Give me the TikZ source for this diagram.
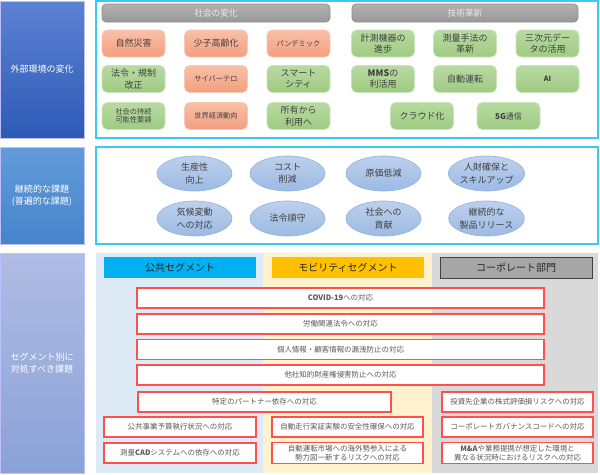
\documentclass[tikz,border=0pt]{standalone}
\usepackage{fontspec}
\setmainfont{Noto Sans CJK JP}
\usetikzlibrary{shapes.geometric}
\definecolor{lOneTop}{RGB}{92,130,210}
\definecolor{lOneBot}{RGB}{46,90,182}
\definecolor{lTwoTop}{RGB}{98,155,218}
\definecolor{lTwoBot}{RGB}{70,132,202}
\definecolor{lThrTop}{RGB}{176,188,228}
\definecolor{lThrBot}{RGB}{138,162,214}
\definecolor{cyanb}{RGB}{60,200,245}
\definecolor{oTop}{RGB}{249,192,168}
\definecolor{oBot}{RGB}{242,158,126}
\definecolor{oBrd}{RGB}{247,200,180}
\definecolor{gTop}{RGB}{184,218,162}
\definecolor{gBot}{RGB}{158,203,130}
\definecolor{gBrd}{RGB}{200,228,184}
\definecolor{hTop}{RGB}{178,178,178}
\definecolor{hBot}{RGB}{152,152,152}
\definecolor{hBrd}{RGB}{140,140,140}
\definecolor{eTop}{RGB}{190,208,236}
\definecolor{eBot}{RGB}{155,186,228}
\definecolor{eBrd}{RGB}{150,180,222}
\definecolor{txtDark}{RGB}{64,64,64}
\definecolor{txtGray}{RGB}{89,89,89}
\definecolor{segBlueBg}{RGB}{222,235,247}
\definecolor{segYelBg}{RGB}{255,242,204}
\definecolor{segGrayBg}{RGB}{217,217,217}
\definecolor{segCyan}{RGB}{0,176,240}
\definecolor{segOrange}{RGB}{255,192,0}
\definecolor{segGray}{RGB}{166,166,166}
\definecolor{redb}{RGB}{255,80,80}
\tikzset{
  base/.style={inner sep=0pt, outer sep=0pt},
  leftbox/.style={base, draw=white!75!blue, line width=0.4pt, align=center, text=white, font=\fontsize{6.75}{8.8}\selectfont, minimum width=63pt},
  panel/.style={base, draw=cyanb, line width=1.1pt, minimum width=376.5pt},
  hdr/.style={base, rounded corners=3pt, draw=hBrd, line width=0.5pt, top color=hTop, bottom color=hBot, text=white!92!black, font=\fontsize{6.5}{8}\selectfont, minimum height=13.5pt},
  tb/.style={base, rounded corners=4pt, line width=0.6pt, text=txtDark, align=center, font=\fontsize{6.75}{8.6}\selectfont, minimum width=47.25pt, minimum height=20.25pt},
  obox/.style={tb, draw=oBrd, top color=oTop, bottom color=oBot},
  gbox/.style={tb, draw=gBrd, top color=gTop, bottom color=gBot},
  smalltxt/.style={font=\fontsize{5.4}{6.3}\selectfont},
  ell/.style={base, ellipse, draw=eBrd, line width=0.5pt, top color=eTop, bottom color=eBot, text=txtDark, align=center, font=\fontsize{6.75}{9.3}\selectfont, minimum width=56.25pt, minimum height=26.25pt},
  bg/.style={base, minimum height=165pt},
  seg/.style={base, font=\fontsize{7.5}{9}\selectfont, text=black!85, minimum width=114pt, minimum height=15.75pt},
  rbox/.style={base, draw=redb, line width=1.1pt, fill=white, text=txtGray, align=center, font=\fontsize{5.6}{7}\selectfont, minimum height=15pt},
  rwide/.style={rbox, minimum width=305.25pt},
  rmid/.style={rbox, minimum width=113.25pt}
}
\begin{document}
\begin{tikzpicture}[x=0.75pt,y=-0.75pt]
\useasboundingbox (0,0) rectangle (600,475);

% left column
\node[leftbox, minimum height=102.75pt, top color=lOneTop, bottom color=lOneBot] (L1) at (42,69.5) {外部環境の変化};
\node[leftbox, minimum height=72.75pt, top color=lTwoTop, bottom color=lTwoBot] (L2) at (42,195.5) {継続的な課題\\(普遍的な課題)};
\node[leftbox, minimum height=165pt, top color=lThrTop, bottom color=lThrBot, font=\fontsize{6.75}{9.2}\selectfont] (L3) at (42,363) {セグメント別に\\対処すべき課題};

% panels
\node[panel, minimum height=102.75pt] (P1) at (347,69.5) {};
\node[panel, minimum height=72.75pt] (P2) at (347,195.5) {};

% section 1
\node[hdr, minimum width=171pt] (H1) at (216,13) {社会の変化};
\node[hdr, minimum width=169.5pt] (H2) at (465,13) {技術革新};

\node[obox] (a1) at (133.5,43.5) {自然災害};
\node[obox] (a2) at (216,43.5) {少子高齢化};
\node[obox, smalltxt] (a3) at (298.5,43.5) {パンデミック};
\node[gbox] (a4) at (383,43.5) {計測機器の\\進歩};
\node[gbox] (a5) at (465,43.5) {測量手法の\\革新};
\node[gbox] (a6) at (547.5,43.5) {三次元デー\\タの活用};

\node[gbox] (b1) at (133.5,79) {法令・規制\\改正};
\node[obox, smalltxt] (b2) at (216,79) {サイバーテロ};
\node[gbox] (b3) at (298.5,79) {スマート\\シティ};
\node[gbox] (b4) at (383,79) {\textbf{MMS}の\\利活用};
\node[gbox] (b5) at (465,79) {自動運転};
\node[gbox, smalltxt] (b6) at (547.5,79) {\textbf{AI}};

\node[gbox, smalltxt] (c1) at (133.5,116) {社会の持続\\可能性要請};
\node[obox, smalltxt] (c2) at (216,116) {世界経済動向};
\node[gbox] (c3) at (298.5,116) {所有から\\利用へ};
\node[gbox] (c4) at (422,116) {クラウド化};
\node[gbox, font=\fontsize{6}{7}\selectfont] (c5) at (508.5,116) {\textbf{5G}通信};

% section 2
\node[ell] (e1) at (194.5,173.5) {生産性\\向上};
\node[ell] (e2) at (287.5,173.5) {コスト\\削減};
\node[ell] (e3) at (383.5,173.5) {原価低減};
\node[ell] (e4) at (486.5,173.5) {人財確保と\\スキルアップ};
\node[ell] (e5) at (194.5,218.5) {気候変動\\への対応};
\node[ell] (e6) at (287.5,218.5) {法令順守};
\node[ell] (e7) at (383.5,218.5) {社会への\\貢献};
\node[ell] (e8) at (486.5,218.5) {継続的な\\製品リリース};

% section 3 backgrounds
\node[bg, fill=segBlueBg, minimum width=125.25pt] (bgA) at (179.5,363) {};
\node[bg, fill=segYelBg, minimum width=126.75pt] (bgB) at (347.5,363) {};
\node[bg, fill=segGrayBg, minimum width=124.5pt] (bgC) at (515,363) {};

% segment headers
\node[seg, fill=segCyan] (S1) at (180,267.5) {公共セグメント};
\node[seg, fill=segOrange] (S2) at (348,267.5) {モビリティセグメント};
\node[seg, fill=segGray, draw=black!75, line width=0.7pt] (S3) at (516,267.5) {コーポレート部門};

% red boxes
\node[rwide] (r1) at (340.5,298) {\textbf{COVID-19}への対応};
\node[rwide] (r2) at (340.5,324) {労働関連法令への対応};
\node[rwide] (r3) at (340.5,349.5) {個人情報・顧客情報の漏洩防止の対応};
\node[rwide] (r4) at (340.5,375) {他社知的財産権侵害防止への対応};
\node[rbox, minimum width=189.75pt] (r5) at (264.5,402) {特定のパートナー依存への対応};
\node[rbox, minimum width=114pt] (r6) at (180,427) {公共事業予算執行状況への対応};
\node[rbox, minimum width=114pt] (r7) at (180,453) {測量\textbf{CAD}システムへの依存への対応};
\node[rmid] (r8) at (347.5,427) {自動走行実証実験の安全性確保への対応};
\node[rmid, minimum height=15.75pt] (r9) at (347.5,453) {自動運転市場への海外勢参入による\\勢力図一新するリスクへの対応};
\node[rmid] (r10) at (517.5,402) {投資先企業の株式評価損リスクへの対応};
\node[rmid] (r11) at (517.5,427) {コーポレートガバナンスコードへの対応};
\node[rmid, minimum height=15.75pt] (r12) at (517.5,453) {\textbf{M\&A}や業務提携が想定した環境と\\異なる状況時におけるリスクへの対応};
\end{tikzpicture}
\end{document}
